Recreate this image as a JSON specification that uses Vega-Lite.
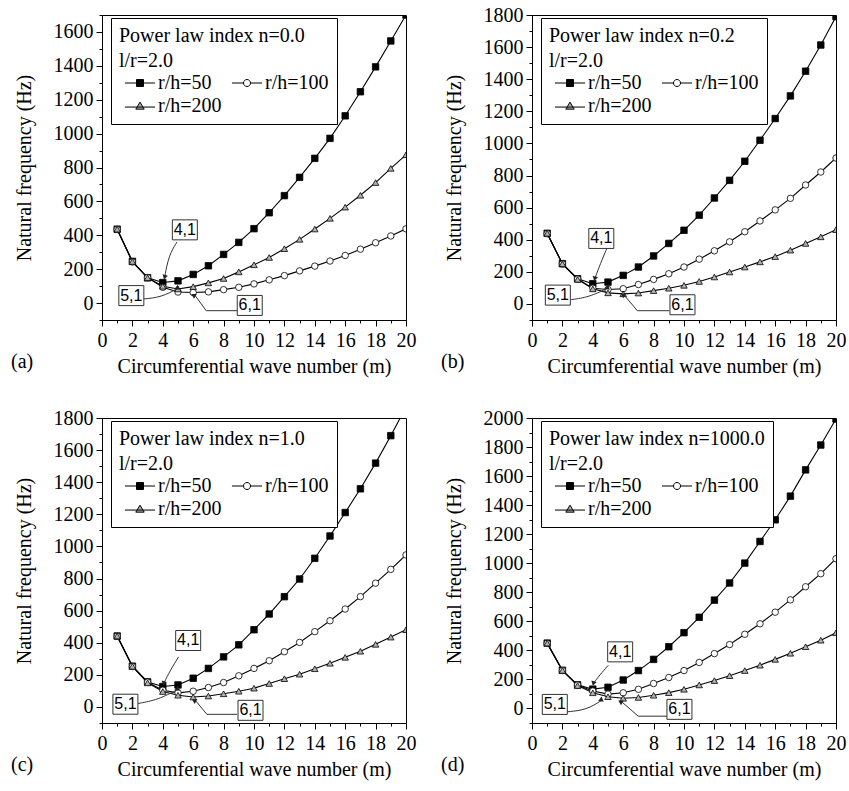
{
 "$schema": "https://vega.github.io/schema/vega-lite/v6.json",
 "background": "white",
 "padding": {"left": 10, "top": 4, "right": 2, "bottom": 4},
 "config": {
  "font": "Liberation Serif",
  "view": {"stroke": "black", "strokeWidth": 1},
  "axis": {"labelFont": "Liberation Serif", "labelFontSize": 20, "titleFont": "Liberation Serif", "titleFontSize": 20, "titleFontWeight": "normal", "labelColor": "black", "titleColor": "black", "domainColor": "black", "tickColor": "black", "grid": false, "labelOverlap": false, "labelFlush": false, "labelBound": false, "domainWidth": 1, "tickWidth": 1},
  "title": {"font": "Liberation Serif", "fontSize": 20, "fontWeight": "normal", "color": "black"},
  "legend": {"orient": "none", "legendX": 9, "legendY": 3, "columns": 2, "direction": "horizontal", "gridAlign": "none", "strokeColor": "black", "fillColor": "white", "padding": 8, "titleFont": "Liberation Serif", "titleFontSize": 20, "titleFontWeight": "normal", "titleLineHeight": 25, "titlePadding": 2, "titleLimit": 400, "titleColor": "black", "labelFont": "Liberation Serif", "labelFontSize": 20, "labelColor": "black", "symbolSize": 49, "symbolStrokeWidth": 1, "symbolOffset": 11, "labelOffset": 8, "columnPadding": 4, "rowPadding": 3}
 },
 "spacing": {"row": 30, "column": 23},
 "columns": 2,
 "datasets": {
  "freq": [
   {"p":"a","s":"r/h=50","m":1,"f":436},{"p":"a","s":"r/h=50","m":2,"f":246},{"p":"a","s":"r/h=50","m":3,"f":149},{"p":"a","s":"r/h=50","m":4,"f":121},{"p":"a","s":"r/h=50","m":5,"f":131},{"p":"a","s":"r/h=50","m":6,"f":169},{"p":"a","s":"r/h=50","m":7,"f":220},{"p":"a","s":"r/h=50","m":8,"f":287},{"p":"a","s":"r/h=50","m":9,"f":358},{"p":"a","s":"r/h=50","m":10,"f":439},{"p":"a","s":"r/h=50","m":11,"f":533},{"p":"a","s":"r/h=50","m":12,"f":634},{"p":"a","s":"r/h=50","m":13,"f":742},{"p":"a","s":"r/h=50","m":14,"f":854},{"p":"a","s":"r/h=50","m":15,"f":972},{"p":"a","s":"r/h=50","m":16,"f":1105},{"p":"a","s":"r/h=50","m":17,"f":1247},{"p":"a","s":"r/h=50","m":18,"f":1394},{"p":"a","s":"r/h=50","m":19,"f":1547},{"p":"a","s":"r/h=50","m":20,"f":1700},
   {"p":"a","s":"r/h=100","m":1,"f":434},{"p":"a","s":"r/h=100","m":2,"f":243},{"p":"a","s":"r/h=100","m":3,"f":150},{"p":"a","s":"r/h=100","m":4,"f":93},{"p":"a","s":"r/h=100","m":5,"f":65},{"p":"a","s":"r/h=100","m":6,"f":62},{"p":"a","s":"r/h=100","m":7,"f":66},{"p":"a","s":"r/h=100","m":8,"f":79},{"p":"a","s":"r/h=100","m":9,"f":93},{"p":"a","s":"r/h=100","m":10,"f":113},{"p":"a","s":"r/h=100","m":11,"f":137},{"p":"a","s":"r/h=100","m":12,"f":162},{"p":"a","s":"r/h=100","m":13,"f":190},{"p":"a","s":"r/h=100","m":14,"f":218},{"p":"a","s":"r/h=100","m":15,"f":248},{"p":"a","s":"r/h=100","m":16,"f":281},{"p":"a","s":"r/h=100","m":17,"f":318},{"p":"a","s":"r/h=100","m":18,"f":356},{"p":"a","s":"r/h=100","m":19,"f":396},{"p":"a","s":"r/h=100","m":20,"f":438},
   {"p":"a","s":"r/h=200","m":1,"f":436},{"p":"a","s":"r/h=200","m":2,"f":245},{"p":"a","s":"r/h=200","m":3,"f":149},{"p":"a","s":"r/h=200","m":4,"f":99},{"p":"a","s":"r/h=200","m":5,"f":83},{"p":"a","s":"r/h=200","m":6,"f":97},{"p":"a","s":"r/h=200","m":7,"f":119},{"p":"a","s":"r/h=200","m":8,"f":145},{"p":"a","s":"r/h=200","m":9,"f":184},{"p":"a","s":"r/h=200","m":10,"f":226},{"p":"a","s":"r/h=200","m":11,"f":269},{"p":"a","s":"r/h=200","m":12,"f":321},{"p":"a","s":"r/h=200","m":13,"f":376},{"p":"a","s":"r/h=200","m":14,"f":437},{"p":"a","s":"r/h=200","m":15,"f":500},{"p":"a","s":"r/h=200","m":16,"f":566},{"p":"a","s":"r/h=200","m":17,"f":636},{"p":"a","s":"r/h=200","m":18,"f":711},{"p":"a","s":"r/h=200","m":19,"f":795},{"p":"a","s":"r/h=200","m":20,"f":875},
   {"p":"b","s":"r/h=50","m":1,"f":440},{"p":"b","s":"r/h=50","m":2,"f":251},{"p":"b","s":"r/h=50","m":3,"f":157},{"p":"b","s":"r/h=50","m":4,"f":126},{"p":"b","s":"r/h=50","m":5,"f":136},{"p":"b","s":"r/h=50","m":6,"f":178},{"p":"b","s":"r/h=50","m":7,"f":230},{"p":"b","s":"r/h=50","m":8,"f":299},{"p":"b","s":"r/h=50","m":9,"f":377},{"p":"b","s":"r/h=50","m":10,"f":459},{"p":"b","s":"r/h=50","m":11,"f":553},{"p":"b","s":"r/h=50","m":12,"f":660},{"p":"b","s":"r/h=50","m":13,"f":770},{"p":"b","s":"r/h=50","m":14,"f":889},{"p":"b","s":"r/h=50","m":15,"f":1020},{"p":"b","s":"r/h=50","m":16,"f":1155},{"p":"b","s":"r/h=50","m":17,"f":1296},{"p":"b","s":"r/h=50","m":18,"f":1450},{"p":"b","s":"r/h=50","m":19,"f":1613},{"p":"b","s":"r/h=50","m":20,"f":1790},
   {"p":"b","s":"r/h=100","m":1,"f":438},{"p":"b","s":"r/h=100","m":2,"f":249},{"p":"b","s":"r/h=100","m":3,"f":155},{"p":"b","s":"r/h=100","m":4,"f":98},{"p":"b","s":"r/h=100","m":5,"f":90},{"p":"b","s":"r/h=100","m":6,"f":95},{"p":"b","s":"r/h=100","m":7,"f":121},{"p":"b","s":"r/h=100","m":8,"f":153},{"p":"b","s":"r/h=100","m":9,"f":188},{"p":"b","s":"r/h=100","m":10,"f":230},{"p":"b","s":"r/h=100","m":11,"f":279},{"p":"b","s":"r/h=100","m":12,"f":331},{"p":"b","s":"r/h=100","m":13,"f":387},{"p":"b","s":"r/h=100","m":14,"f":450},{"p":"b","s":"r/h=100","m":15,"f":517},{"p":"b","s":"r/h=100","m":16,"f":586},{"p":"b","s":"r/h=100","m":17,"f":658},{"p":"b","s":"r/h=100","m":18,"f":741},{"p":"b","s":"r/h=100","m":19,"f":822},{"p":"b","s":"r/h=100","m":20,"f":909},
   {"p":"b","s":"r/h=200","m":1,"f":440},{"p":"b","s":"r/h=200","m":2,"f":250},{"p":"b","s":"r/h=200","m":3,"f":153},{"p":"b","s":"r/h=200","m":4,"f":94},{"p":"b","s":"r/h=200","m":5,"f":69},{"p":"b","s":"r/h=200","m":6,"f":63},{"p":"b","s":"r/h=200","m":7,"f":68},{"p":"b","s":"r/h=200","m":8,"f":83},{"p":"b","s":"r/h=200","m":9,"f":98},{"p":"b","s":"r/h=200","m":10,"f":116},{"p":"b","s":"r/h=200","m":11,"f":140},{"p":"b","s":"r/h=200","m":12,"f":168},{"p":"b","s":"r/h=200","m":13,"f":199},{"p":"b","s":"r/h=200","m":14,"f":230},{"p":"b","s":"r/h=200","m":15,"f":262},{"p":"b","s":"r/h=200","m":16,"f":295},{"p":"b","s":"r/h=200","m":17,"f":335},{"p":"b","s":"r/h=200","m":18,"f":377},{"p":"b","s":"r/h=200","m":19,"f":418},{"p":"b","s":"r/h=200","m":20,"f":463},
   {"p":"c","s":"r/h=50","m":1,"f":442},{"p":"c","s":"r/h=50","m":2,"f":254},{"p":"c","s":"r/h=50","m":3,"f":156},{"p":"c","s":"r/h=50","m":4,"f":127},{"p":"c","s":"r/h=50","m":5,"f":137},{"p":"c","s":"r/h=50","m":6,"f":179},{"p":"c","s":"r/h=50","m":7,"f":240},{"p":"c","s":"r/h=50","m":8,"f":312},{"p":"c","s":"r/h=50","m":9,"f":387},{"p":"c","s":"r/h=50","m":10,"f":481},{"p":"c","s":"r/h=50","m":11,"f":579},{"p":"c","s":"r/h=50","m":12,"f":687},{"p":"c","s":"r/h=50","m":13,"f":797},{"p":"c","s":"r/h=50","m":14,"f":926},{"p":"c","s":"r/h=50","m":15,"f":1065},{"p":"c","s":"r/h=50","m":16,"f":1211},{"p":"c","s":"r/h=50","m":17,"f":1359},{"p":"c","s":"r/h=50","m":18,"f":1519},{"p":"c","s":"r/h=50","m":19,"f":1690},{"p":"c","s":"r/h=50","m":20,"f":1868},
   {"p":"c","s":"r/h=100","m":1,"f":440},{"p":"c","s":"r/h=100","m":2,"f":252},{"p":"c","s":"r/h=100","m":3,"f":154},{"p":"c","s":"r/h=100","m":4,"f":104},{"p":"c","s":"r/h=100","m":5,"f":88},{"p":"c","s":"r/h=100","m":6,"f":98},{"p":"c","s":"r/h=100","m":7,"f":121},{"p":"c","s":"r/h=100","m":8,"f":152},{"p":"c","s":"r/h=100","m":9,"f":194},{"p":"c","s":"r/h=100","m":10,"f":240},{"p":"c","s":"r/h=100","m":11,"f":288},{"p":"c","s":"r/h=100","m":12,"f":344},{"p":"c","s":"r/h=100","m":13,"f":402},{"p":"c","s":"r/h=100","m":14,"f":469},{"p":"c","s":"r/h=100","m":15,"f":537},{"p":"c","s":"r/h=100","m":16,"f":610},{"p":"c","s":"r/h=100","m":17,"f":687},{"p":"c","s":"r/h=100","m":18,"f":771},{"p":"c","s":"r/h=100","m":19,"f":857},{"p":"c","s":"r/h=100","m":20,"f":947},
   {"p":"c","s":"r/h=200","m":1,"f":442},{"p":"c","s":"r/h=200","m":2,"f":253},{"p":"c","s":"r/h=200","m":3,"f":150},{"p":"c","s":"r/h=200","m":4,"f":96},{"p":"c","s":"r/h=200","m":5,"f":73},{"p":"c","s":"r/h=200","m":6,"f":62},{"p":"c","s":"r/h=200","m":7,"f":68},{"p":"c","s":"r/h=200","m":8,"f":82},{"p":"c","s":"r/h=200","m":9,"f":98},{"p":"c","s":"r/h=200","m":10,"f":117},{"p":"c","s":"r/h=200","m":11,"f":146},{"p":"c","s":"r/h=200","m":12,"f":176},{"p":"c","s":"r/h=200","m":13,"f":204},{"p":"c","s":"r/h=200","m":14,"f":238},{"p":"c","s":"r/h=200","m":15,"f":272},{"p":"c","s":"r/h=200","m":16,"f":309},{"p":"c","s":"r/h=200","m":17,"f":347},{"p":"c","s":"r/h=200","m":18,"f":390},{"p":"c","s":"r/h=200","m":19,"f":435},{"p":"c","s":"r/h=200","m":20,"f":481},
   {"p":"d","s":"r/h=50","m":1,"f":450},{"p":"d","s":"r/h=50","m":2,"f":263},{"p":"d","s":"r/h=50","m":3,"f":163},{"p":"d","s":"r/h=50","m":4,"f":133},{"p":"d","s":"r/h=50","m":5,"f":146},{"p":"d","s":"r/h=50","m":6,"f":196},{"p":"d","s":"r/h=50","m":7,"f":261},{"p":"d","s":"r/h=50","m":8,"f":338},{"p":"d","s":"r/h=50","m":9,"f":425},{"p":"d","s":"r/h=50","m":10,"f":522},{"p":"d","s":"r/h=50","m":11,"f":628},{"p":"d","s":"r/h=50","m":12,"f":746},{"p":"d","s":"r/h=50","m":13,"f":864},{"p":"d","s":"r/h=50","m":14,"f":1001},{"p":"d","s":"r/h=50","m":15,"f":1150},{"p":"d","s":"r/h=50","m":16,"f":1299},{"p":"d","s":"r/h=50","m":17,"f":1462},{"p":"d","s":"r/h=50","m":18,"f":1643},{"p":"d","s":"r/h=50","m":19,"f":1814},{"p":"d","s":"r/h=50","m":20,"f":1993},
   {"p":"d","s":"r/h=100","m":1,"f":448},{"p":"d","s":"r/h=100","m":2,"f":261},{"p":"d","s":"r/h=100","m":3,"f":161},{"p":"d","s":"r/h=100","m":4,"f":120},{"p":"d","s":"r/h=100","m":5,"f":99},{"p":"d","s":"r/h=100","m":6,"f":108},{"p":"d","s":"r/h=100","m":7,"f":132},{"p":"d","s":"r/h=100","m":8,"f":172},{"p":"d","s":"r/h=100","m":9,"f":213},{"p":"d","s":"r/h=100","m":10,"f":261},{"p":"d","s":"r/h=100","m":11,"f":317},{"p":"d","s":"r/h=100","m":12,"f":378},{"p":"d","s":"r/h=100","m":13,"f":440},{"p":"d","s":"r/h=100","m":14,"f":511},{"p":"d","s":"r/h=100","m":15,"f":583},{"p":"d","s":"r/h=100","m":16,"f":663},{"p":"d","s":"r/h=100","m":17,"f":748},{"p":"d","s":"r/h=100","m":18,"f":838},{"p":"d","s":"r/h=100","m":19,"f":928},{"p":"d","s":"r/h=100","m":20,"f":1031},
   {"p":"d","s":"r/h=200","m":1,"f":450},{"p":"d","s":"r/h=200","m":2,"f":262},{"p":"d","s":"r/h=200","m":3,"f":158},{"p":"d","s":"r/h=200","m":4,"f":108},{"p":"d","s":"r/h=200","m":5,"f":81},{"p":"d","s":"r/h=200","m":6,"f":70},{"p":"d","s":"r/h=200","m":7,"f":76},{"p":"d","s":"r/h=200","m":8,"f":91},{"p":"d","s":"r/h=200","m":9,"f":109},{"p":"d","s":"r/h=200","m":10,"f":132},{"p":"d","s":"r/h=200","m":11,"f":162},{"p":"d","s":"r/h=200","m":12,"f":192},{"p":"d","s":"r/h=200","m":13,"f":226},{"p":"d","s":"r/h=200","m":14,"f":261},{"p":"d","s":"r/h=200","m":15,"f":298},{"p":"d","s":"r/h=200","m":16,"f":338},{"p":"d","s":"r/h=200","m":17,"f":380},{"p":"d","s":"r/h=200","m":18,"f":425},{"p":"d","s":"r/h=200","m":19,"f":470},{"p":"d","s":"r/h=200","m":20,"f":521}
  ],
  "notes": [
   {"p":"a","label":"4,1","m":5.45,"f":432},{"p":"a","label":"5,1","m":1.93,"f":44},{"p":"a","label":"6,1","m":9.72,"f":-14},
   {"p":"b","label":"4,1","m":4.56,"f":408},{"p":"b","label":"5,1","m":1.7,"f":55},{"p":"b","label":"6,1","m":9.9,"f":-5},
   {"p":"c","label":"4,1","m":5.67,"f":414},{"p":"c","label":"5,1","m":1.54,"f":17},{"p":"c","label":"6,1","m":9.77,"f":-21},
   {"p":"d","label":"4,1","m":5.8,"f":390},{"p":"d","label":"5,1","m":1.5,"f":28},{"p":"d","label":"6,1","m":9.7,"f":-6}
  ],
  "arrows": [
   {"p":"a","note":"4,1","o":1,"m":4.93,"f":360,"head":0},{"p":"a","note":"4,1","o":2,"m":4.39,"f":281,"head":0},{"p":"a","note":"4,1","o":3,"m":4.12,"f":152,"head":1},
   {"p":"a","note":"5,1","o":1,"m":2.7,"f":24,"head":0},{"p":"a","note":"5,1","o":2,"m":3.9,"f":34,"head":0},{"p":"a","note":"5,1","o":3,"m":5.0,"f":87,"head":1},
   {"p":"a","note":"6,1","o":1,"m":8.95,"f":-45,"head":0},{"p":"a","note":"6,1","o":2,"m":6.86,"f":-45,"head":0},{"p":"a","note":"6,1","o":3,"m":6.1,"f":47,"head":1},
   {"p":"b","note":"4,1","o":1,"m":4.94,"f":350,"head":0},{"p":"b","note":"4,1","o":2,"m":4.5,"f":251,"head":0},{"p":"b","note":"4,1","o":3,"m":4.13,"f":157,"head":1},
   {"p":"b","note":"5,1","o":1,"m":2.58,"f":27,"head":0},{"p":"b","note":"5,1","o":2,"m":3.73,"f":42,"head":0},{"p":"b","note":"5,1","o":3,"m":5.0,"f":98,"head":1},
   {"p":"b","note":"6,1","o":1,"m":9.03,"f":-42,"head":0},{"p":"b","note":"6,1","o":2,"m":6.93,"f":-42,"head":0},{"p":"b","note":"6,1","o":3,"m":6.05,"f":57,"head":1},
   {"p":"c","note":"4,1","o":1,"m":5.04,"f":312,"head":0},{"p":"c","note":"4,1","o":2,"m":4.5,"f":230,"head":0},{"p":"c","note":"4,1","o":3,"m":4.06,"f":146,"head":1},
   {"p":"c","note":"5,1","o":1,"m":2.35,"f":21,"head":0},{"p":"c","note":"5,1","o":2,"m":3.7,"f":45,"head":0},{"p":"c","note":"5,1","o":3,"m":5.0,"f":110,"head":1},
   {"p":"c","note":"6,1","o":1,"m":8.88,"f":-46,"head":0},{"p":"c","note":"6,1","o":2,"m":6.9,"f":-46,"head":0},{"p":"c","note":"6,1","o":3,"m":6.14,"f":41,"head":1},
   {"p":"d","note":"4,1","o":1,"m":5.02,"f":297,"head":0},{"p":"d","note":"4,1","o":2,"m":4.45,"f":230,"head":0},{"p":"d","note":"4,1","o":3,"m":4.04,"f":172,"head":1},
   {"p":"d","note":"5,1","o":1,"m":2.3,"f":-23,"head":0},{"p":"d","note":"5,1","o":2,"m":3.6,"f":-10,"head":0},{"p":"d","note":"5,1","o":3,"m":4.59,"f":57,"head":1},
   {"p":"d","note":"6,1","o":1,"m":8.89,"f":-53,"head":0},{"p":"d","note":"6,1","o":2,"m":6.99,"f":-53,"head":0},{"p":"d","note":"6,1","o":3,"m":5.9,"f":46,"head":1}
  ]
 },
 "concat": [
  {
   "width": 304, "height": 305,
   "title": {"text": "(a)", "orient": "bottom", "anchor": "start", "dx": -3, "dy": -24, "offset": 0},
   "resolve": {"axis": {"x": "independent", "y": "independent"}, "scale": {"shape": "independent", "fill": "independent"}},
   "layer": [
    {"data": {"name": "freq"}, "transform": [{"filter": "datum.p === 'a'"}],
     "mark": {"type": "line", "color": "black", "strokeWidth": 1.1, "clip": true},
     "encoding": {
      "x": {"field": "m", "type": "quantitative", "scale": {"domain": [0, 20], "nice": false},
            "axis": {"title": "Circumferential wave number (m)", "values": [0,2,4,6,8,10,12,14,16,18,20], "format": "d", "tickSize": 6, "labelPadding": 4, "titlePadding": 6}},
      "y": {"field": "f", "type": "quantitative", "scale": {"domain": [-100, 1700], "nice": false, "zero": false},
            "axis": {"title": "Natural frequency (Hz)", "values": [0,200,400,600,800,1000,1200,1400,1600], "format": "d", "tickSize": 6, "labelPadding": 3, "titlePadding": 19}},
      "detail": {"field": "s"}
     }},
    {"data": {"name": "freq"}, "transform": [{"filter": "datum.p === 'a'"}],
     "mark": {"type": "point", "filled": true, "stroke": "black", "strokeWidth": 0.8, "size": 42, "opacity": 1, "clip": true},
     "encoding": {
      "x": {"field": "m", "type": "quantitative", "axis": {"orient": "bottom", "values": [1,3,5,7,9,11,13,15,17,19], "labels": false, "tickSize": 3, "domain": false, "title": null}},
      "y": {"field": "f", "type": "quantitative", "axis": {"orient": "left", "values": [-100,100,300,500,700,900,1100,1300,1500,1700], "labels": false, "tickSize": 3, "domain": false, "title": null}},
      "shape": {"field": "s", "type": "nominal", "scale": {"domain": ["r/h=50","r/h=100","r/h=200"], "range": ["square","circle","triangle-up"]}, "legend": null},
      "fill": {"field": "s", "type": "nominal", "scale": {"domain": ["r/h=50","r/h=100","r/h=200"], "range": ["black","white","#b0b0b0"]}, "legend": null}
     }},
    {"data": {"name": "freq"}, "transform": [{"filter": "datum.p === 'a' && datum.m > 100"}],
     "mark": {"type": "point", "filled": true, "stroke": "black", "strokeWidth": 1, "opacity": 1},
     "encoding": {
      "x": {"field": "m", "type": "quantitative", "axis": null},
      "y": {"field": "f", "type": "quantitative", "axis": null},
      "shape": {"field": "s", "type": "nominal", "scale": {"domain": ["r/h=50","r/h=100","r/h=200"], "range": ["M-4.3,0L4.3,0M-1,-1L1,-1L1,1L-1,1Z", "M-4.3,0L-1,0M1,0L4.3,0M-1,0A1,1,0,1,0,1,0A1,1,0,1,0,-1,0Z", "M-4.3,0.3L4.3,0.3M0,-1.1L1.2,0.9L-1.2,0.9Z"]}, "legend": {"title": ["Power law index n=0.0", "l/r=2.0"]}},
      "fill": {"field": "s", "type": "nominal", "scale": {"domain": ["r/h=50","r/h=100","r/h=200"], "range": ["black","white","#b0b0b0"]}, "legend": {"title": ["Power law index n=0.0", "l/r=2.0"]}}
     }},
    {"data": {"name": "arrows"}, "transform": [{"filter": "datum.p === 'a' && datum.note !== '6,1'"}],
     "mark": {"type": "line", "color": "#333333", "strokeWidth": 1, "interpolate": "basis"},
     "encoding": {"x": {"field": "m", "type": "quantitative", "axis": null}, "y": {"field": "f", "type": "quantitative", "axis": null}, "detail": {"field": "note"}, "order": {"field": "o"}}},
    {"data": {"name": "arrows"}, "transform": [{"filter": "datum.p === 'a' && datum.note === '6,1'"}],
     "mark": {"type": "line", "color": "#333333", "strokeWidth": 1},
     "encoding": {"x": {"field": "m", "type": "quantitative", "axis": null}, "y": {"field": "f", "type": "quantitative", "axis": null}, "detail": {"field": "note"}, "order": {"field": "o"}}},
    {"data": {"name": "arrows"}, "transform": [{"filter": "datum.p === 'a' && datum.head === 1"}],
     "mark": {"type": "point", "shape": "triangle-up", "filled": true, "color": "#222222", "size": 30, "opacity": 1},
     "encoding": {"x": {"field": "m", "type": "quantitative", "axis": null}, "y": {"field": "f", "type": "quantitative", "axis": null},
      "angle": {"field": "note", "type": "nominal", "scale": {"domain": ["4,1","5,1","6,1"], "range": [195, 60, 320]}, "legend": null}}},
    {"data": {"name": "notes"}, "transform": [{"filter": "datum.p === 'a'"}],
     "mark": {"type": "point", "shape": "M-1.25,-1L1.25,-1L1.25,1L-1.25,1Z", "size": 400, "filled": true, "fill": "white", "stroke": "#333333", "strokeWidth": 1, "opacity": 1},
     "encoding": {"x": {"field": "m", "type": "quantitative", "axis": null}, "y": {"field": "f", "type": "quantitative", "axis": null}}},
    {"data": {"name": "notes"}, "transform": [{"filter": "datum.p === 'a'"}],
     "mark": {"type": "text", "font": "Liberation Sans", "fontSize": 16, "align": "center", "baseline": "middle", "color": "black"},
     "encoding": {"x": {"field": "m", "type": "quantitative", "axis": null}, "y": {"field": "f", "type": "quantitative", "axis": null}, "text": {"field": "label"}}}
   ]
  },
  {
   "width": 304, "height": 305,
   "title": {"text": "(b)", "orient": "bottom", "anchor": "start", "dx": -3, "dy": -24, "offset": 0},
   "resolve": {"axis": {"x": "independent", "y": "independent"}, "scale": {"shape": "independent", "fill": "independent"}},
   "layer": [
    {"data": {"name": "freq"}, "transform": [{"filter": "datum.p === 'b'"}],
     "mark": {"type": "line", "color": "black", "strokeWidth": 1.1, "clip": true},
     "encoding": {
      "x": {"field": "m", "type": "quantitative", "scale": {"domain": [0, 20], "nice": false},
            "axis": {"title": "Circumferential wave number (m)", "values": [0,2,4,6,8,10,12,14,16,18,20], "format": "d", "tickSize": 6, "labelPadding": 4, "titlePadding": 6}},
      "y": {"field": "f", "type": "quantitative", "scale": {"domain": [-100, 1800], "nice": false, "zero": false},
            "axis": {"title": "Natural frequency (Hz)", "values": [0,200,400,600,800,1000,1200,1400,1600,1800], "format": "d", "tickSize": 6, "labelPadding": 3, "titlePadding": 19}},
      "detail": {"field": "s"}
     }},
    {"data": {"name": "freq"}, "transform": [{"filter": "datum.p === 'b'"}],
     "mark": {"type": "point", "filled": true, "stroke": "black", "strokeWidth": 0.8, "size": 42, "opacity": 1, "clip": true},
     "encoding": {
      "x": {"field": "m", "type": "quantitative", "axis": {"orient": "bottom", "values": [1,3,5,7,9,11,13,15,17,19], "labels": false, "tickSize": 3, "domain": false, "title": null}},
      "y": {"field": "f", "type": "quantitative", "axis": {"orient": "left", "values": [-100,100,300,500,700,900,1100,1300,1500,1700], "labels": false, "tickSize": 3, "domain": false, "title": null}},
      "shape": {"field": "s", "type": "nominal", "scale": {"domain": ["r/h=50","r/h=100","r/h=200"], "range": ["square","circle","triangle-up"]}, "legend": null},
      "fill": {"field": "s", "type": "nominal", "scale": {"domain": ["r/h=50","r/h=100","r/h=200"], "range": ["black","white","#b0b0b0"]}, "legend": null}
     }},
    {"data": {"name": "freq"}, "transform": [{"filter": "datum.p === 'b' && datum.m > 100"}],
     "mark": {"type": "point", "filled": true, "stroke": "black", "strokeWidth": 1, "opacity": 1},
     "encoding": {
      "x": {"field": "m", "type": "quantitative", "axis": null},
      "y": {"field": "f", "type": "quantitative", "axis": null},
      "shape": {"field": "s", "type": "nominal", "scale": {"domain": ["r/h=50","r/h=100","r/h=200"], "range": ["M-4.3,0L4.3,0M-1,-1L1,-1L1,1L-1,1Z", "M-4.3,0L-1,0M1,0L4.3,0M-1,0A1,1,0,1,0,1,0A1,1,0,1,0,-1,0Z", "M-4.3,0.3L4.3,0.3M0,-1.1L1.2,0.9L-1.2,0.9Z"]}, "legend": {"title": ["Power law index n=0.2", "l/r=2.0"]}},
      "fill": {"field": "s", "type": "nominal", "scale": {"domain": ["r/h=50","r/h=100","r/h=200"], "range": ["black","white","#b0b0b0"]}, "legend": {"title": ["Power law index n=0.2", "l/r=2.0"]}}
     }},
    {"data": {"name": "arrows"}, "transform": [{"filter": "datum.p === 'b' && datum.note !== '6,1'"}],
     "mark": {"type": "line", "color": "#333333", "strokeWidth": 1, "interpolate": "basis"},
     "encoding": {"x": {"field": "m", "type": "quantitative", "axis": null}, "y": {"field": "f", "type": "quantitative", "axis": null}, "detail": {"field": "note"}, "order": {"field": "o"}}},
    {"data": {"name": "arrows"}, "transform": [{"filter": "datum.p === 'b' && datum.note === '6,1'"}],
     "mark": {"type": "line", "color": "#333333", "strokeWidth": 1},
     "encoding": {"x": {"field": "m", "type": "quantitative", "axis": null}, "y": {"field": "f", "type": "quantitative", "axis": null}, "detail": {"field": "note"}, "order": {"field": "o"}}},
    {"data": {"name": "arrows"}, "transform": [{"filter": "datum.p === 'b' && datum.head === 1"}],
     "mark": {"type": "point", "shape": "triangle-up", "filled": true, "color": "#222222", "size": 30, "opacity": 1},
     "encoding": {"x": {"field": "m", "type": "quantitative", "axis": null}, "y": {"field": "f", "type": "quantitative", "axis": null},
      "angle": {"field": "note", "type": "nominal", "scale": {"domain": ["4,1","5,1","6,1"], "range": [195, 60, 320]}, "legend": null}}},
    {"data": {"name": "notes"}, "transform": [{"filter": "datum.p === 'b'"}],
     "mark": {"type": "point", "shape": "M-1.25,-1L1.25,-1L1.25,1L-1.25,1Z", "size": 400, "filled": true, "fill": "white", "stroke": "#333333", "strokeWidth": 1, "opacity": 1},
     "encoding": {"x": {"field": "m", "type": "quantitative", "axis": null}, "y": {"field": "f", "type": "quantitative", "axis": null}}},
    {"data": {"name": "notes"}, "transform": [{"filter": "datum.p === 'b'"}],
     "mark": {"type": "text", "font": "Liberation Sans", "fontSize": 16, "align": "center", "baseline": "middle", "color": "black"},
     "encoding": {"x": {"field": "m", "type": "quantitative", "axis": null}, "y": {"field": "f", "type": "quantitative", "axis": null}, "text": {"field": "label"}}}
   ]
  },
  {
   "width": 304, "height": 305,
   "title": {"text": "(c)", "orient": "bottom", "anchor": "start", "dx": -3, "dy": -24, "offset": 0},
   "resolve": {"axis": {"x": "independent", "y": "independent"}, "scale": {"shape": "independent", "fill": "independent"}},
   "layer": [
    {"data": {"name": "freq"}, "transform": [{"filter": "datum.p === 'c'"}],
     "mark": {"type": "line", "color": "black", "strokeWidth": 1.1, "clip": true},
     "encoding": {
      "x": {"field": "m", "type": "quantitative", "scale": {"domain": [0, 20], "nice": false},
            "axis": {"title": "Circumferential wave number (m)", "values": [0,2,4,6,8,10,12,14,16,18,20], "format": "d", "tickSize": 6, "labelPadding": 4, "titlePadding": 6}},
      "y": {"field": "f", "type": "quantitative", "scale": {"domain": [-100, 1800], "nice": false, "zero": false},
            "axis": {"title": "Natural frequency (Hz)", "values": [0,200,400,600,800,1000,1200,1400,1600,1800], "format": "d", "tickSize": 6, "labelPadding": 3, "titlePadding": 19}},
      "detail": {"field": "s"}
     }},
    {"data": {"name": "freq"}, "transform": [{"filter": "datum.p === 'c'"}],
     "mark": {"type": "point", "filled": true, "stroke": "black", "strokeWidth": 0.8, "size": 42, "opacity": 1, "clip": true},
     "encoding": {
      "x": {"field": "m", "type": "quantitative", "axis": {"orient": "bottom", "values": [1,3,5,7,9,11,13,15,17,19], "labels": false, "tickSize": 3, "domain": false, "title": null}},
      "y": {"field": "f", "type": "quantitative", "axis": {"orient": "left", "values": [-100,100,300,500,700,900,1100,1300,1500,1700], "labels": false, "tickSize": 3, "domain": false, "title": null}},
      "shape": {"field": "s", "type": "nominal", "scale": {"domain": ["r/h=50","r/h=100","r/h=200"], "range": ["square","circle","triangle-up"]}, "legend": null},
      "fill": {"field": "s", "type": "nominal", "scale": {"domain": ["r/h=50","r/h=100","r/h=200"], "range": ["black","white","#b0b0b0"]}, "legend": null}
     }},
    {"data": {"name": "freq"}, "transform": [{"filter": "datum.p === 'c' && datum.m > 100"}],
     "mark": {"type": "point", "filled": true, "stroke": "black", "strokeWidth": 1, "opacity": 1},
     "encoding": {
      "x": {"field": "m", "type": "quantitative", "axis": null},
      "y": {"field": "f", "type": "quantitative", "axis": null},
      "shape": {"field": "s", "type": "nominal", "scale": {"domain": ["r/h=50","r/h=100","r/h=200"], "range": ["M-4.3,0L4.3,0M-1,-1L1,-1L1,1L-1,1Z", "M-4.3,0L-1,0M1,0L4.3,0M-1,0A1,1,0,1,0,1,0A1,1,0,1,0,-1,0Z", "M-4.3,0.3L4.3,0.3M0,-1.1L1.2,0.9L-1.2,0.9Z"]}, "legend": {"title": ["Power law index n=1.0", "l/r=2.0"]}},
      "fill": {"field": "s", "type": "nominal", "scale": {"domain": ["r/h=50","r/h=100","r/h=200"], "range": ["black","white","#b0b0b0"]}, "legend": {"title": ["Power law index n=1.0", "l/r=2.0"]}}
     }},
    {"data": {"name": "arrows"}, "transform": [{"filter": "datum.p === 'c' && datum.note !== '6,1'"}],
     "mark": {"type": "line", "color": "#333333", "strokeWidth": 1, "interpolate": "basis"},
     "encoding": {"x": {"field": "m", "type": "quantitative", "axis": null}, "y": {"field": "f", "type": "quantitative", "axis": null}, "detail": {"field": "note"}, "order": {"field": "o"}}},
    {"data": {"name": "arrows"}, "transform": [{"filter": "datum.p === 'c' && datum.note === '6,1'"}],
     "mark": {"type": "line", "color": "#333333", "strokeWidth": 1},
     "encoding": {"x": {"field": "m", "type": "quantitative", "axis": null}, "y": {"field": "f", "type": "quantitative", "axis": null}, "detail": {"field": "note"}, "order": {"field": "o"}}},
    {"data": {"name": "arrows"}, "transform": [{"filter": "datum.p === 'c' && datum.head === 1"}],
     "mark": {"type": "point", "shape": "triangle-up", "filled": true, "color": "#222222", "size": 30, "opacity": 1},
     "encoding": {"x": {"field": "m", "type": "quantitative", "axis": null}, "y": {"field": "f", "type": "quantitative", "axis": null},
      "angle": {"field": "note", "type": "nominal", "scale": {"domain": ["4,1","5,1","6,1"], "range": [195, 60, 320]}, "legend": null}}},
    {"data": {"name": "notes"}, "transform": [{"filter": "datum.p === 'c'"}],
     "mark": {"type": "point", "shape": "M-1.25,-1L1.25,-1L1.25,1L-1.25,1Z", "size": 400, "filled": true, "fill": "white", "stroke": "#333333", "strokeWidth": 1, "opacity": 1},
     "encoding": {"x": {"field": "m", "type": "quantitative", "axis": null}, "y": {"field": "f", "type": "quantitative", "axis": null}}},
    {"data": {"name": "notes"}, "transform": [{"filter": "datum.p === 'c'"}],
     "mark": {"type": "text", "font": "Liberation Sans", "fontSize": 16, "align": "center", "baseline": "middle", "color": "black"},
     "encoding": {"x": {"field": "m", "type": "quantitative", "axis": null}, "y": {"field": "f", "type": "quantitative", "axis": null}, "text": {"field": "label"}}}
   ]
  },
  {
   "width": 304, "height": 305,
   "title": {"text": "(d)", "orient": "bottom", "anchor": "start", "dx": -3, "dy": -24, "offset": 0},
   "resolve": {"axis": {"x": "independent", "y": "independent"}, "scale": {"shape": "independent", "fill": "independent"}},
   "layer": [
    {"data": {"name": "freq"}, "transform": [{"filter": "datum.p === 'd'"}],
     "mark": {"type": "line", "color": "black", "strokeWidth": 1.1, "clip": true},
     "encoding": {
      "x": {"field": "m", "type": "quantitative", "scale": {"domain": [0, 20], "nice": false},
            "axis": {"title": "Circumferential wave number (m)", "values": [0,2,4,6,8,10,12,14,16,18,20], "format": "d", "tickSize": 6, "labelPadding": 4, "titlePadding": 6}},
      "y": {"field": "f", "type": "quantitative", "scale": {"domain": [-100, 2000], "nice": false, "zero": false},
            "axis": {"title": "Natural frequency (Hz)", "values": [0,200,400,600,800,1000,1200,1400,1600,1800,2000], "format": "d", "tickSize": 6, "labelPadding": 3, "titlePadding": 19}},
      "detail": {"field": "s"}
     }},
    {"data": {"name": "freq"}, "transform": [{"filter": "datum.p === 'd'"}],
     "mark": {"type": "point", "filled": true, "stroke": "black", "strokeWidth": 0.8, "size": 42, "opacity": 1, "clip": true},
     "encoding": {
      "x": {"field": "m", "type": "quantitative", "axis": {"orient": "bottom", "values": [1,3,5,7,9,11,13,15,17,19], "labels": false, "tickSize": 3, "domain": false, "title": null}},
      "y": {"field": "f", "type": "quantitative", "axis": {"orient": "left", "values": [-100,100,300,500,700,900,1100,1300,1500,1700,1900], "labels": false, "tickSize": 3, "domain": false, "title": null}},
      "shape": {"field": "s", "type": "nominal", "scale": {"domain": ["r/h=50","r/h=100","r/h=200"], "range": ["square","circle","triangle-up"]}, "legend": null},
      "fill": {"field": "s", "type": "nominal", "scale": {"domain": ["r/h=50","r/h=100","r/h=200"], "range": ["black","white","#b0b0b0"]}, "legend": null}
     }},
    {"data": {"name": "freq"}, "transform": [{"filter": "datum.p === 'd' && datum.m > 100"}],
     "mark": {"type": "point", "filled": true, "stroke": "black", "strokeWidth": 1, "opacity": 1},
     "encoding": {
      "x": {"field": "m", "type": "quantitative", "axis": null},
      "y": {"field": "f", "type": "quantitative", "axis": null},
      "shape": {"field": "s", "type": "nominal", "scale": {"domain": ["r/h=50","r/h=100","r/h=200"], "range": ["M-4.3,0L4.3,0M-1,-1L1,-1L1,1L-1,1Z", "M-4.3,0L-1,0M1,0L4.3,0M-1,0A1,1,0,1,0,1,0A1,1,0,1,0,-1,0Z", "M-4.3,0.3L4.3,0.3M0,-1.1L1.2,0.9L-1.2,0.9Z"]}, "legend": {"title": ["Power law index n=1000.0", "l/r=2.0"]}},
      "fill": {"field": "s", "type": "nominal", "scale": {"domain": ["r/h=50","r/h=100","r/h=200"], "range": ["black","white","#b0b0b0"]}, "legend": {"title": ["Power law index n=1000.0", "l/r=2.0"]}}
     }},
    {"data": {"name": "arrows"}, "transform": [{"filter": "datum.p === 'd' && datum.note !== '6,1'"}],
     "mark": {"type": "line", "color": "#333333", "strokeWidth": 1, "interpolate": "basis"},
     "encoding": {"x": {"field": "m", "type": "quantitative", "axis": null}, "y": {"field": "f", "type": "quantitative", "axis": null}, "detail": {"field": "note"}, "order": {"field": "o"}}},
    {"data": {"name": "arrows"}, "transform": [{"filter": "datum.p === 'd' && datum.note === '6,1'"}],
     "mark": {"type": "line", "color": "#333333", "strokeWidth": 1},
     "encoding": {"x": {"field": "m", "type": "quantitative", "axis": null}, "y": {"field": "f", "type": "quantitative", "axis": null}, "detail": {"field": "note"}, "order": {"field": "o"}}},
    {"data": {"name": "arrows"}, "transform": [{"filter": "datum.p === 'd' && datum.head === 1"}],
     "mark": {"type": "point", "shape": "triangle-up", "filled": true, "color": "#222222", "size": 30, "opacity": 1},
     "encoding": {"x": {"field": "m", "type": "quantitative", "axis": null}, "y": {"field": "f", "type": "quantitative", "axis": null},
      "angle": {"field": "note", "type": "nominal", "scale": {"domain": ["4,1","5,1","6,1"], "range": [195, 60, 320]}, "legend": null}}},
    {"data": {"name": "notes"}, "transform": [{"filter": "datum.p === 'd'"}],
     "mark": {"type": "point", "shape": "M-1.25,-1L1.25,-1L1.25,1L-1.25,1Z", "size": 400, "filled": true, "fill": "white", "stroke": "#333333", "strokeWidth": 1, "opacity": 1},
     "encoding": {"x": {"field": "m", "type": "quantitative", "axis": null}, "y": {"field": "f", "type": "quantitative", "axis": null}}},
    {"data": {"name": "notes"}, "transform": [{"filter": "datum.p === 'd'"}],
     "mark": {"type": "text", "font": "Liberation Sans", "fontSize": 16, "align": "center", "baseline": "middle", "color": "black"},
     "encoding": {"x": {"field": "m", "type": "quantitative", "axis": null}, "y": {"field": "f", "type": "quantitative", "axis": null}, "text": {"field": "label"}}}
   ]
  }
 ],
 "resolve": {"scale": {"x": "independent", "y": "independent", "shape": "independent", "fill": "independent", "angle": "independent"}, "legend": {"shape": "independent", "fill": "independent"}}
}
